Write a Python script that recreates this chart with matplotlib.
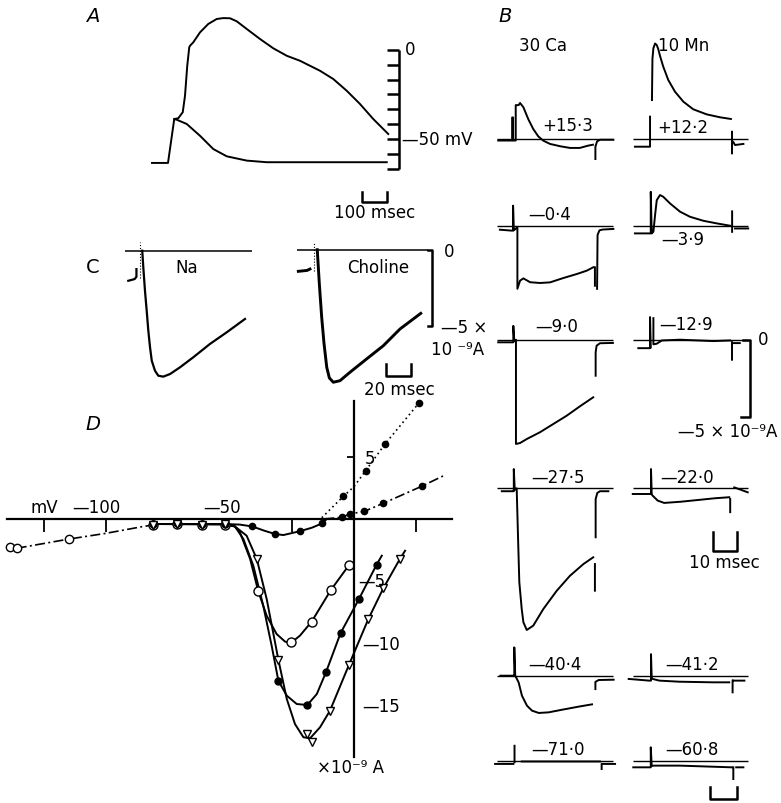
import numpy as np
import matplotlib
matplotlib.use('Agg')  # headless
import matplotlib.pyplot as plt

plt.rcParams['font.family'] = ['DejaVu Sans']
nan = np.nan

# ---------------- A: action potentials (msec, mV) ----------------
A_t_upper = [0, 64, 89, 105, 123, 132, 141, 149, 152, 165, 192, 225, 259, 285, 312, 339,
             379, 432, 485, 539, 592, 632, 672, 725, 779, 832, 885, 945]
A_v_upper = [-63.4, -63.4, -38.8, -38.4, -35.0, -25.8, -9.0, 1.3, 2.2, 4.1, 9.7, 14.4, 17.2,
             17.7, 17.6, 15.9, 11.6, 6.0, 0.8, -3.4, -6.2, -9.0, -11.8, -16.4, -23.0, -30.4,
             -38.8, -47.2]
A_t_lower = [89, 99, 139, 192, 245, 299, 379, 459, 939]
A_v_lower = [-38.8, -39.2, -41.6, -48.2, -55.6, -59.7, -62.1, -63.0, -63.0]
A_ticks = [0, -8.3, -16.7, -25, -33.3, -41.7, -50, -58.3, -66.7]

# ---------------- B: membrane currents (msec, 10^-9 A) ----------------
B_labels_ca = ['+15·3', '—0·4', '—9·0', '—27·5', '—40·4', '—71·0']
B_labels_mn = ['+12·2', '—3·9', '—12·9', '—22·0', '—41·2', '—60·8']

ca1_t = [-7, -1.2, -1.2, -0.8, -0.8, 0.3, 0.3, 1.5, 2.1, 3.5, 5.5, 7.6, 9.7, 11.8, 14.6, 18.8,
         22.9, 27, 30.5, 32.5, nan, 33.5, 33.5, 34.2, 35.5, 41]
ca1_i = [-0.1, -0.1, 1.4, 1.4, -0.1, -0.1, 2.2, 2.2, 2.34, 2.06, 1.30, 0.65, 0.17, -0.11, -0.32,
         -0.47, -0.58, -0.58, -0.43, -0.37, nan, -1.3, -0.5, -0.15, -0.05, -0.05]
ca2_t = [-6.3, -1.4, -0.8, -0.8, -0.5, 1, 1, 2.1, 3.5, 6.3, 10.4, 14.6, 20.1, 25.7, 29.9, 32.6,
         nan, 33.3, 33.3, nan, 34.2, 34.4, 35.2, 36.5, 41]
ca2_i = [-0.26, -0.32, -0.32, 1.3, -0.3, -0.1, -4.1, -3.57, -3.42, -3.67, -3.72, -3.68, -3.4,
         -3.14, -2.92, -2.7, nan, -2.7, -3.9, nan, -4.1, -0.6, -0.3, -0.25, -0.21]
ca3_t = [-7, -0.7, -0.7, -0.3, 0.4, 0.4, 2.1, 4.9, 10.4, 16, 21.5, 27.1, 32.6, nan, 33.6, 33.6,
         34.0, 35.4, 40.8]
ca3_i = [-0.17, -0.17, 0.9, -0.1, 0, -6.77, -6.71, -6.45, -6.01, -5.47, -4.94, -4.32, -3.74, nan,
         -2.34, -0.82, -0.39, -0.23, -0.21]
ca4_t = [-5.5, -0.7, -0.5, -0.5, -0.1, 0.7, 1.4, 1.8, 2.8, 3.5, 4.9, 7.6, 11.8, 17.4, 22.9, 28.5,
         32.6, nan, 33.3, 33.3, nan, 33.6, 33.6, 34.3, 35.4, 38.9]
ca4_i = [-0.19, -0.19, -0.19, 1.25, -0.1, 0, -3.94, -6.1, -7.84, -8.7, -9.2, -8.92, -7.84, -6.65,
         -5.68, -4.92, -4.48, nan, -4.92, -6.65, nan, -3.18, -0.7, -0.3, -0.19, -0.19]
ca5_t = [-6.1, -0.4, -0.3, -0.3, 0.1, 1.5, 2.9, 5, 7.1, 9.9, 14, 19.6, 26.5, 32.1, nan, 33.5,
         33.5, 34.9, 41.1]
ca5_i = [0, 0, 0, 1.84, 0, -0.43, -1.3, -1.95, -2.27, -2.42, -2.38, -2.21, -2.01, -1.86, nan,
         -0.87, -0.4, -0.28, -0.26]
ca6_t = [-8.3, -0.7, nan, -0.2, -0.2, nan, 2.8, 35.4, nan, 36.1, 36.1, 36.8, 41.7]
ca6_i = [-0.21, -0.21, nan, -0.1, 0.97, nan, -0.05, -0.05, nan, -0.54, -0.2, -0.21, -0.21]

mn1_t = [-6.7, -0.7, -0.4, -0.4, nan, 0.4, 0.6, 1.0, 1.7, 2.4, 3.0, 3.75, 5.1, 7.2, 10, 13.5,
         17.6, 23.2, 28.75, 33.3, nan, 33.75, 33.75, nan, 34.3, 35, 38.5]
mn1_i = [-0.5, -0.5, -0.5, 1.45, nan, 2.53, 5.2, 5.9, 6.2, 6.1, 5.85, 5.4, 4.7, 3.83, 3.07, 2.42,
         1.93, 1.6, 1.41, 1.3, nan, 0.47, -0.93, nan, -0.2, -0.39, -0.32]
mn2_t = [-6.7, -0.7, -0.1, -0.1, 0.3, 1, 1.7, 2.4, 3.75, 5.1, 7.9, 12.1, 16.25, 21.8, 27.4, 32.9,
         nan, 33.8, 33.8, nan, 35, 40.5]
mn2_i = [-0.5, -0.5, -0.5, 2.2, -0.5, -0.39, 0.69, 1.66, 1.99, 1.88, 1.45, 0.91, 0.58, 0.32,
         0.15, 0, nan, 0.93, -0.4, nan, -0.18, -0.18]
mn3_t = [-5.3, -0.4, -0.4, -0.1, nan, 1.0, 1.0, 2.4, 4.5, 12.1, 26, 32.9, nan, 33.75, 33.75, nan,
         34.3, 37]
mn3_i = [-0.55, -0.55, 1.47, -0.5, nan, 1.4, -0.3, -0.26, -0.05, 0, -0.09, -0.05, nan, -0.16,
         -1.3, nan, -0.22, -0.22]
mn4_t = [-7.6, -0.7, 0, 0, 0.3, 0.7, 2.8, 5.5, 12.5, 19.5, 26.4, 32.6, nan, 33, 33, nan, 34.7, 40.3]
mn4_i = [-0.37, -0.37, -0.37, 1.25, -0.4, -0.48, -0.8, -0.95, -0.87, -0.76, -0.65, -0.58, nan,
         -0.7, -1.55, nan, 0.06, -0.26]
mn5_t = [-9.3, -0.7, 0, 0, 0.3, 0.7, 3.5, 11.8, 25.7, 32.6, nan, 34, 34, nan, 34.2, 38.9]
mn5_i = [-0.21, -0.32, -0.32, 1.4, -0.2, -0.21, -0.32, -0.39, -0.43, -0.43, nan, -0.32, -1.08,
         nan, -0.32, -0.32]
mn6_t = [-7.4, -1.1, -0.1, -0.1, 0.3, 1, 12, 33.6, nan, 34.3, 34.3, nan, 35.5, 38.5]
mn6_i = [-0.43, -0.43, -0.43, 0.87, -0.35, -0.32, -0.32, -0.43, nan, -0.43, -1.19, nan, -0.43,
         -0.43]

# ---------------- C: Na vs choline (msec, 10^-9 A) ----------------
na_t = [-11.1, -6, -4.5, -4.5, nan, 0.2, 1.05, 2.4, 3.8, 5.1, 6.5, 7.9, 10.5, 13.2, 17.2, 22.7,
        30.8, 41.5, 55, 68.6, 83.4]
na_i = [-1.96, -1.85, -1.7, -1.2, nan, 0, -1.08, -2.6, -3.91, -5.2, -6.3, -7.17, -7.82, -8.15,
        -8.21, -8.04, -7.6, -6.95, -6.08, -5.32, -4.45]
ch_t = [-15.1, -8, -5.7, nan, 0.2, 1.9, 3.8, 5.7, 7.9, 10, 13.2, 18.6, 26.7, 40.2, 53.7, 67.2, 84]
ch_i = [-1.41, -1.35, -1.26, nan, 0, -2.24, -4.41, -6.13, -7.67, -8.36, -8.64, -8.54, -7.99,
        -7.12, -6.26, -5.17, -4.15]

# ---------------- D: current-voltage relations (mV, 10^-9 A) ----------------
near_v = [-81, -71.4, -61.3, -52]

out_dot_pts_v = [-4.3, 4.7, 12.5, 26.2]
out_dot_pts_i = [1.82, 3.88, 6.02, 9.32]
out_dot_v = [-13, -4.3, 0, 4.7, 12.5, 26.2]
out_dot_i = [0.1, 1.82, 2.6, 3.88, 6.02, 9.32]

out_dd_pts_v = [-5.0, -1.6, 4.2, 11.8, 27.3]
out_dd_pts_i = [0.14, 0.4, 0.62, 1.26, 2.63]
out_dd_v = [-12, -5.0, -1.6, 4.2, 11.8, 27.3, 36.7]
out_dd_i = [0, 0.14, 0.4, 0.62, 1.26, 2.63, 3.53]

leak_pts_v = [-138.7, -136, -114.9]
leak_pts_i = [-2.27, -2.35, -1.61]
leak_v = [-136, -114.9, -100, -85, -78]
leak_i = [-2.35, -1.61, -1.15, -0.6, -0.4]

hump_pts_v = near_v + [-41, -31.9, -21.8, -12.8]
hump_pts_i = [-0.4, -0.4, -0.4, -0.4, -0.59, -1.2, -0.94, -0.35]
hump_v = [-82, -52, -46, -41, -36, -31.9, -28.5, -21.8, -17, -12.8, -11]
hump_i = [-0.4, -0.4, -0.45, -0.6, -0.95, -1.2, -1.29, -0.98, -0.7, -0.35, 0]

open_pts_v = near_v + [-38.6, -25.4, -17.1, -9.3, -1.9]
open_pts_i = [-0.45, -0.4, -0.45, -0.45, -5.81, -9.9, -8.25, -5.7, -3.67]
open_v = [-82, -52, -48, -46, -41.9, -38.6, -35.2, -31.2, -27.8, -25.4, -21.8, -17.1, -9.3, -1.9]
open_i = [-0.4, -0.45, -0.6, -1.07, -3.2, -5.81, -7.77, -9.24, -9.85, -9.95, -9.37, -8.25, -5.7,
          -3.67]

fill_pts_v = near_v + [-30.5, -18.8, -11.3, -5.4, 2.0, 9.1]
fill_pts_i = [-0.4, -0.35, -0.4, -0.4, -12.99, -14.94, -12.31, -9.16, -6.43, -3.67]
fill_v = [-82, -52, -48, -44.6, -40.6, -36.6, -33.2, -30.5, -27.1, -23.1, -18.8, -15, -11.3, -5.4,
          2.0, 9.1, 11.2]
fill_i = [-0.4, -0.4, -0.6, -1.61, -3.75, -6.96, -10.18, -12.99, -14.19, -14.86, -14.94, -14.06,
          -12.31, -9.16, -6.43, -3.67, -2.95]

tri_pts_v = near_v + [-39.2, -30.5, -19.1, -17.1, -9.7, -2.0, 5.8, 11.8, 18.5]
tri_pts_i = [-0.45, -0.4, -0.45, -0.4, -3.21, -11.3, -17.27, -17.94, -15.4, -11.7, -8.03, -5.57,
             -3.21]
tri_v = [-82, -52, -48, -43.3, -39.2, -35.2, -30.5, -27.1, -23.8, -20.4, -17.7, -13.7, -9.7, -2.0,
         5.8, 11.8, 18.5, 20.6]
tri_i = [-0.4, -0.4, -0.6, -1.34, -3.21, -6.43, -11.3, -14.46, -16.47, -17.53, -17.61, -16.73,
         -15.4, -11.7, -8.03, -5.57, -3.21, -2.55]

# ---------------- layout ----------------
W, H = 781, 804
fig = plt.figure(figsize=(W / 100, H / 100), dpi=100)
LW = 1.4


def px_axes(box, x0, sx, y0, sy):
    """Axes on a pixel box; data 0 sits at pixel (x0, y0), sx/sy pixels per unit."""
    l, t, r, b = box
    ax = fig.add_axes([l / W, 1 - b / H, (r - l) / W, (b - t) / H])
    ax.set_xlim((l - x0) / sx, (r - x0) / sx)
    ax.set_ylim((y0 - b) / sy, (y0 - t) / sy)
    ax.axis('off')
    return ax


def label(x, y, s, ha='center', size=12, **kw):
    fig.text(x / W, 1 - y / H, s, ha=ha, va='center', fontsize=size, **kw)


# A
axA = px_axes((140, 0, 480, 235), 152, 0.25, 50.7, 1.786)
axA.plot(A_t_upper, A_v_upper, 'k', lw=LW)
axA.plot(A_t_lower, A_v_lower, 'k', lw=LW)
axA.vlines(988, A_ticks[-1], A_ticks[0], color='k', lw=1.8)
axA.hlines(A_ticks, 940, 988, color='k', lw=1.8)
axA.plot([840, 840, 940, 940], [-79.7, -85.3, -85.3, -79.7], 'k', lw=1.8)
label(93, 16, 'A', size=14, style='italic')
label(405, 50, '0', ha='left')
label(402, 140, '—50 mV', ha='left')
label(375, 213, '100 msec')

# B
B_rows = [140, 226.7, 340.7, 489.3, 676.7, 761.7]
ca_traces = [(ca1_t, ca1_i), (ca2_t, ca2_i), (ca3_t, ca3_i),
             (ca4_t, ca4_i), (ca5_t, ca5_i), (ca6_t, ca6_i)]
mn_traces = [(mn1_t, mn1_i), (mn2_t, mn2_i), (mn3_t, mn3_i),
             (mn4_t, mn4_i), (mn5_t, mn5_i), (mn6_t, mn6_i)]
ca_lab_pos = [(568, 126), (550, 215), (557, 327), (558, 478), (555, 665), (558, 750)]
mn_lab_pos = [(683, 128), (683, 240), (686, 325), (687, 478), (692, 665), (692, 750)]
B_axes = []
for k, zero in enumerate(B_rows):
    for col, (onset, traces, span) in enumerate([(515, ca_traces, (-7.5, 41)),
                                                 (651, mn_traces, (-7.5, 40.5))]):
        ax = px_axes((485, zero - 130, 775, zero + 170), onset, 2.4, zero, 15.4)
        t, i = traces[k]
        ax.hlines(0, *span, color='k', lw=1.0)
        ax.plot(t, i, 'k', lw=LW)
        B_axes.append(ax)
for (x, y), s in zip(ca_lab_pos, B_labels_ca):
    label(x, y, s)
for (x, y), s in zip(mn_lab_pos, B_labels_mn):
    label(x, y, s)
label(505, 16, 'B', size=14, style='italic')
label(543, 46, '30 Ca')
label(684, 46, '10 Mn')

# B scale bars (5 nA, 10 msec), drawn in trace axes
axS = B_axes[5]
axS.plot([38.5, 41.25, 41.25, 37.5], [0, 0, -5, -5], 'k', lw=1.8)
label(758, 340, '0', ha='left')
label(728, 432, '—5 × 10⁻⁹A')
axT = B_axes[7]
axT.plot([25.8, 25.8, 35.8, 35.8], [-2.84, -4.07, -4.07, -2.84], 'k', lw=1.8)
label(724, 563, '10 msec')
axU = B_axes[11]
axU.plot([24.6, 24.6, 35.8, 35.8], [-1.71, -2.49, -2.49, -1.71], 'k', lw=1.8)

# C
axNa = px_axes((105, 230, 275, 400), 142, 1.235, 251.7, 15.34)
axNa.hlines(0, -13.8, 88.8, color='k', lw=1.1)
axNa.plot(na_t, na_i, 'k', lw=1.6)
axNa.vlines(-1.6, -1.75, 0.55, color='k', lw=0.8, linestyles=':')
axCh = px_axes((285, 230, 480, 400), 317, 1.235, 250.7, 15.34)
axCh.hlines(0, -16.4, 89.9, color='k', lw=1.1)
axCh.plot(ch_t, ch_i, 'k', lw=2.1)
axCh.vlines(-2.2, -1.37, 0.48, color='k', lw=0.8, linestyles=':')
axCh.plot([89.9, 93.1, 93.1, 89.9], [0, 0, -5, -5], 'k', lw=1.8)
axCh.plot([55.9, 55.9, 75.9, 75.9], [-7.45, -8.21, -8.21, -7.45], 'k', lw=1.8)
label(93, 268, 'C', size=14)
label(187, 268, 'Na')
label(378, 268, 'Choline')
label(444, 252, '0', ha='left')
label(441, 328, '—5 ×', ha='left')
label(431, 350, '10 ⁻⁹A', ha='left')
label(399, 390, '20 msec')

# D
l, t, r, b = 0, 385, 470, 790
axD = fig.add_axes([l / W, 1 - b / H, (r - l) / W, (b - t) / H])
axD.set_xlim((l - 354) / 2.48, (r - 354) / 2.48)
axD.set_ylim((520 - b) / 12.45, (520 - t) / 12.45)
axD.patch.set_visible(False)
for s in ['top', 'right']:
    axD.spines[s].set_visible(False)
axD.spines['left'].set_position(('data', 0))
axD.spines['bottom'].set_position(('data', 0))
axD.spines['bottom'].set_bounds(-140, 39.5)
axD.spines['left'].set_bounds(-19.1, 9.5)
for s in ['left', 'bottom']:
    axD.spines[s].set_linewidth(1.6)
axD.set_xticks([-125, -100, -25, 25])
axD.set_yticks([5])
axD.tick_params(axis='x', direction='out', length=9, width=1.3, labelbottom=False)
axD.tick_params(axis='y', direction='out', length=5, width=1.3, labelleft=False)

axD.plot(out_dot_v, out_dot_i, 'k', lw=1.2, dashes=(1, 2))
axD.plot(out_dd_v, out_dd_i, 'k', lw=1.2, dashes=(6, 2, 1.2, 2))
axD.plot(leak_v, leak_i, 'k', lw=1.2, dashes=(6, 2, 1.2, 2))
for v, i in [(hump_v, hump_i), (open_v, open_i), (fill_v, fill_i), (tri_v, tri_i)]:
    axD.plot(v, i, 'k', lw=LW)
axD.plot(out_dot_pts_v, out_dot_pts_i, 'o', color='k', ms=4.5)
axD.plot(out_dd_pts_v, out_dd_pts_i, 'o', color='k', ms=4.5)
axD.plot(leak_pts_v, leak_pts_i, 'o', mfc='white', mec='k', ms=6, mew=1.0)
axD.plot(hump_pts_v, hump_pts_i, 'o', color='k', ms=4.5)
axD.plot(open_pts_v, open_pts_i, 'o', mfc='white', mec='k', ms=6.5, mew=1.0)
axD.plot(fill_pts_v, fill_pts_i, 'o', color='k', ms=5)
axD.plot(tri_pts_v, tri_pts_i, 'v', mfc='white', mec='k', ms=5.5, mew=1.0)

label(93, 425, 'D', size=14, style='italic')
label(44, 508, 'mV')
label(96, 508, '—100')
label(222, 508, '—50')
label(365, 459, '5', ha='left')
label(358, 582, '—5', ha='left')
label(362, 645, '—10', ha='left')
label(362, 707, '—15', ha='left')
label(317, 768, '×10⁻⁹ A', ha='left')

fig.savefig('out.png', dpi=100)
